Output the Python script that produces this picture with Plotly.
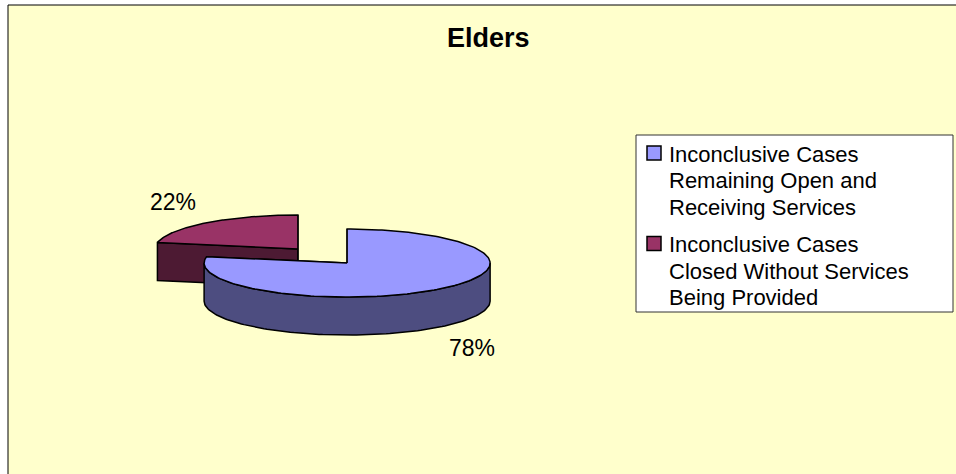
import numpy as np
import plotly.graph_objects as go

title = "Elders"
labels = ["Inconclusive Cases<br>Remaining Open and<br>Receiving Services",
          "Inconclusive Cases<br>Closed Without Services<br>Being Provided"]
values = [78, 22]

top_colors = ["#9999FF", "#993366"]
side_colors = ["#4D4D80", "#4D1A33"]

# pie geometry, drawn in pixel space (axes span the whole 956x474 page)
W, H = 956, 474
CX, CY = 322.5, 256.0
RX, RY = 143.0, 34.0
DEPTH = 38.0
EXPLODE = 0.27

fig = go.Figure()


def poly(xs, ys, color):
    fig.add_trace(go.Scatter(x=xs, y=ys, mode="lines", fill="toself",
                             fillcolor=color,
                             line=dict(color="black", width=1.5),
                             hoverinfo="skip", showlegend=False))


def edge(cx, cy, t, dy=0.0):
    return cx + RX * np.sin(t), cy - RY * np.cos(t) + dy


total = float(sum(values))
cum = np.cumsum([0] + values) / total * 2 * np.pi
slices = []
for i, v in enumerate(values):
    s, e = cum[i], cum[i + 1]
    m = (s + e) / 2
    cx = CX + EXPLODE * RX * np.sin(m)
    cy = CY - EXPLODE * RY * np.cos(m)
    slices.append((cy, i, s, e, m, cx))

# back slices first
for cy, i, s, e, m, cx in sorted(slices):
    # radial walls
    for t in (s, e):
        x1, y1 = edge(cx, cy, t)
        poly([cx, x1, x1, cx, cx], [cy, y1, y1 + DEPTH, cy + DEPTH, cy], side_colors[i])
    # outer curved side, only the front half is visible
    a, b = max(s, np.pi / 2), min(e, 3 * np.pi / 2)
    if b > a:
        ts = np.linspace(a, b, 120)
        xt, yt = edge(cx, cy, ts)
        xs = np.concatenate([xt, xt[::-1], xt[:1]])
        ys = np.concatenate([yt, yt[::-1] + DEPTH, yt[:1]])
        poly(xs, ys, side_colors[i])
    # top face
    ts = np.linspace(s, e, 200)
    xt, yt = edge(cx, cy, ts)
    poly(np.concatenate([[cx], xt, [cx]]), np.concatenate([[cy], yt, [cy]]), top_colors[i])

annotations = []
for cy, i, s, e, m, cx in slices:
    lx = cx + 1.37 * RX * np.sin(m)
    ly = cy - 1.8 * RY * np.cos(m) + (DEPTH if np.cos(m) < 0 else 0)
    annotations.append(dict(x=lx, y=ly, text="%d%%" % round(values[i] / total * 100),
                            showarrow=False, xanchor="center", yanchor="middle",
                            font=dict(family="Liberation Sans, Arial", size=23, color="black")))

annotations.append(dict(x=488.5, y=38, text="<b>%s</b>" % title, showarrow=False,
                        xanchor="center", yanchor="middle",
                        font=dict(family="Liberation Sans, Arial", size=27, color="black")))

shapes = [dict(type="rect", x0=8, y0=5, x1=W + 5, y1=H + 5, fillcolor="#FFFFCC",
               line=dict(color="black", width=1), layer="below"),
          dict(type="rect", x0=636, y0=135, x1=953, y1=312, fillcolor="white",
               line=dict(color="#333333", width=1), layer="below")]

# legend: one annotation per text line so the line pitch matches
leg_top = [153, 243.5]
LINE = 26.5
for i, lab in enumerate(labels):
    y0 = leg_top[i]
    shapes.append(dict(type="rect", x0=647, y0=y0 - 7, x1=661, y1=y0 + 7,
                       fillcolor=top_colors[i], line=dict(color="black", width=1.5)))
    for k, line in enumerate(lab.split("<br>")):
        annotations.append(dict(x=667, y=y0 + k * LINE + 1, text=line, showarrow=False,
                                xanchor="left", yanchor="middle",
                                font=dict(family="Liberation Sans, Arial", size=22, color="black")))

fig.update_layout(
    width=W, height=H,
    margin=dict(l=0, r=0, t=0, b=0),
    paper_bgcolor="white", plot_bgcolor="white",
    xaxis=dict(range=[0, W], visible=False, fixedrange=True),
    yaxis=dict(range=[H, 0], visible=False, fixedrange=True),
    shapes=shapes, annotations=annotations,
)

fig.write_html("out.html", config={"displayModeBar": False},
               post_script="document.body.style.margin='0';document.body.style.overflow='hidden';")
